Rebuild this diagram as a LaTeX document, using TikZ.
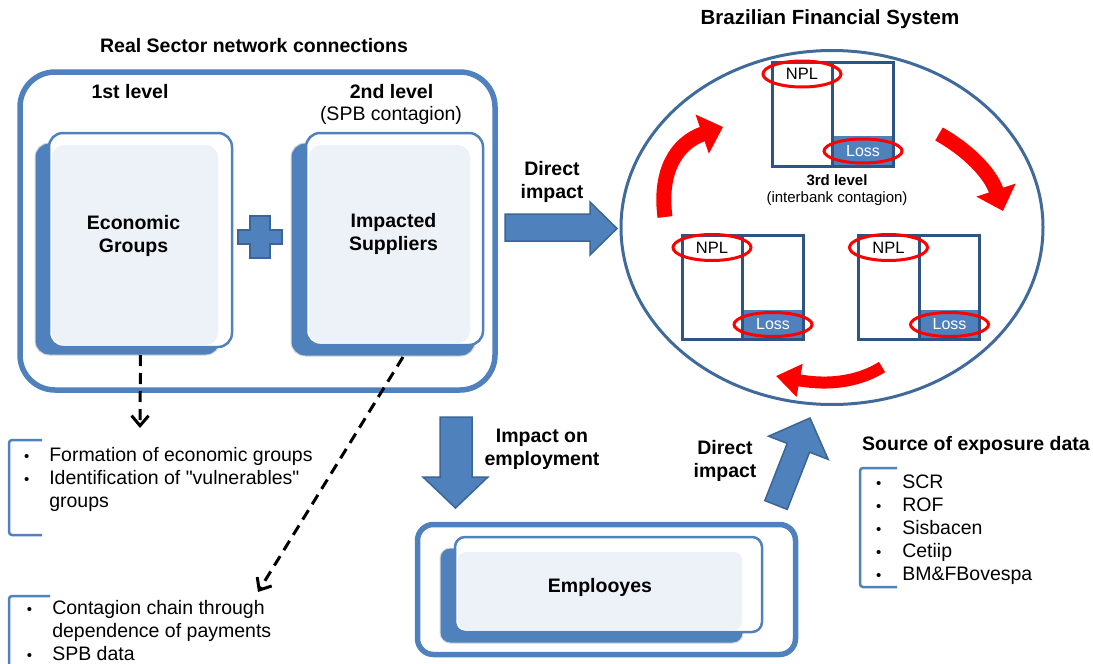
\documentclass[tikz,border=0pt]{standalone}
\usepackage{fontspec}
\setmainfont{Liberation Sans}[Ligatures=TeXOff]
\usetikzlibrary{arrows.meta,shapes.geometric}
\definecolor{bl}{HTML}{4F81BD}
\definecolor{bledge}{HTML}{3B6596}
\definecolor{navyb}{HTML}{2E5486}
\definecolor{ellc}{HTML}{416A9C}
\definecolor{lightb}{HTML}{EDF2F9}
\definecolor{redc}{HTML}{FF0000}
\newcommand{\mybul}{{\fontsize{15}{15}\selectfont\textbullet}}
\begin{document}
\begin{tikzpicture}[x=1pt, y=-1pt,
  every node/.style={inner sep=0pt, outer sep=0pt},
  txt/.style={font=\fontsize{19.5}{23}\selectfont, align=center},
  btxt/.style={font=\fontsize{19.5}{23}\selectfont\bfseries, align=center},
  stxt/.style={font=\fontsize{15}{18}\selectfont},
  sbtxt/.style={font=\fontsize{15}{18}\selectfont\bfseries},
  listtxt/.style={font=\fontsize{19.5}{23}\selectfont, anchor=west},
  outerbox/.style={rectangle, draw=bl, line width=5.5pt},
  shadowcard/.style={rectangle, fill=bl, draw=black!15, line width=1pt, rounded corners=14pt},
  frontcard/.style={rectangle, fill=white, draw=bl, line width=2.5pt, rounded corners=14pt},
  innercard/.style={rectangle, fill=lightb, rounded corners=12pt},
  blockarrow/.style={fill=bl, draw=bledge, line width=1.5pt, line join=miter},
  dasharr/.style={draw=black, line width=3pt, dash pattern=on 11pt off 7pt, -{Straight Barb[length=10pt,width=17pt]}},
  bracketline/.style={draw=bl, line width=2.5pt, rounded corners=3pt},
  banknode/.style={rectangle, fill=white, minimum width=121pt, minimum height=104pt},
  bankline/.style={draw=navyb, line width=3pt},
  ring/.style={draw=redc, line width=3pt},
  redarr/.style={draw=redc, line width=15pt, -{Triangle[length=22pt,width=40pt]}},
  redarrs/.style={draw=redc, line width=12pt, -{Triangle[length=24pt,width=32pt]}}
]
\useasboundingbox (0,0) rectangle (1093,664);

% ---------- Real sector box ----------
\node[btxt] (rstitle) at (254,46) {Real Sector network connections};
\node[outerbox, rounded corners=35pt, minimum width=475pt, minimum height=318pt] (realbox) at (257.5,231) {};
\node[btxt] (lvl1) at (130,92) {1st level};
\node[btxt] (lvl2) at (391.5,92) {2nd level};
\node[txt] (spb) at (391,115) {(SPB contagion)};

% left card
\node[shadowcard, minimum width=185pt, minimum height=212pt] (ecoShadow) at (127.5,249) {};
\node[frontcard, minimum width=183pt, minimum height=214pt] (ecoFront) at (140.5,240) {};
\node[innercard, minimum width=166pt, minimum height=200pt] (ecoInner) at (135,245) {};
\node[btxt] (eg) at (133.5,235.5) {Economic\\Groups};

% right card
\node[shadowcard, minimum width=184pt, minimum height=213pt] (supShadow) at (383,249.5) {};
\node[frontcard, minimum width=177pt, minimum height=212pt] (supFront) at (394.5,239) {};
\node[innercard, minimum width=161pt, minimum height=198pt] (supInner) at (389.5,244) {};
\node[btxt] (is) at (393.5,233.5) {Impacted\\Suppliers};

% plus sign
\draw[blockarrow] (250,216) -- (270,216) -- (270,230) -- (282,230) -- (282,244) -- (270,244)
  -- (270,258) -- (250,258) -- (250,244) -- (238,244) -- (238,230) -- (250,230) -- cycle;

% ---------- lists ----------
\draw[bracketline] (42,440) -- (9,440) -- (9,535) -- (42,535);
\node[listtxt] (list1) at (24,479.5) {\begin{tabular}{@{}l@{\hspace{20pt}}l@{}}
\mybul & Formation of economic groups\\
\mybul & Identification of "vulnerables"\\
 & groups
\end{tabular}};

\draw[bracketline] (50,596) -- (9,596) -- (9,680);
\node[listtxt] (list2) at (27,633) {\begin{tabular}{@{}l@{\hspace{20pt}}l@{}}
\mybul & Contagion chain through\\
 & dependence of payments\\
\mybul & SPB data
\end{tabular}};

\coordinate (d1end) at (140,428);
\coordinate (d2start) at (403,357);
\coordinate (d2end) at (258,592);
\draw[dasharr] (ecoFront.south |- ecoShadow.south) -- (d1end);
\draw[dasharr] (d2start) -- (d2end);

% ---------- direct impact arrow ----------
\draw[blockarrow] (505,214) -- (590,214) -- (590,202) -- (617,228.5) -- (590,255) -- (590,241) -- (505,241) -- cycle;
\node[btxt] (di1) at (552,182) {Direct\\impact};

% ---------- employment ----------
\draw[blockarrow] (440,417) -- (472,417) -- (472,477) -- (488,477) -- (455.5,508) -- (423,477) -- (440,477) -- cycle;
\node[btxt] (ie) at (542,449) {Impact on\\employment};

\node[outerbox, rounded corners=16pt, minimum width=378pt, minimum height=130pt] (empbox) at (606.5,589.5) {};
\node[shadowcard, rounded corners=10pt, minimum width=303pt, minimum height=95pt] (empShadow) at (591.5,595.5) {};
\node[frontcard, rounded corners=10pt, minimum width=307pt, minimum height=95pt] (empFront) at (608.5,584.5) {};
\node[innercard, rounded corners=8pt, minimum width=284pt, minimum height=78pt] (empInner) at (600,591) {};
\node[btxt] (emp) at (600,587) {Emplooyes};

\draw[blockarrow] (764.8,500.6) -- (787.2,443.4) -- (768.6,436.2) -- (810,418) -- (828.2,459.4)
  -- (809.6,452.2) -- (787.2,509.4) -- cycle;
\node[btxt] (di2) at (725,461) {Direct\\impact};

% ---------- Brazilian financial system ----------
\node[btxt, font=\fontsize{20.5}{24}\selectfont\bfseries] (bfstitle) at (830,19) {Brazilian Financial System};
\node[draw=ellc, line width=3pt, ellipse, minimum width=422pt, minimum height=354pt] (bfs) at (832,227.5) {};

% banks
\foreach \nm/\cx/\cy in {bankA/832.5/114, bankB/742.5/287.5, bankC/919/287.5}{
  \node[banknode] (\nm) at (\cx,\cy) {};
  \fill[bl] (\nm.south) rectangle ([yshift=30pt]\nm.south east);
  \draw[bankline] (\nm.north) -- (\nm.south);
  \draw[bankline] (\nm.north west) rectangle (\nm.south east);
  \node[txt, font=\fontsize{16}{18}\selectfont, text=white] (\nm loss) at ([xshift=-30pt, yshift=15pt]\nm.south east) {Loss};
  \node[txt, font=\fontsize{16.5}{18}\selectfont] (\nm npl) at ([xshift=30pt, yshift=-12pt]\nm.north west) {NPL};
  \draw[ring] (\nm npl.center) ellipse [x radius=39, y radius=13];
  \draw[ring] (\nm loss.center) ellipse [x radius=39, y radius=12];
}

\node[sbtxt] (l3) at (837,180) {3rd level};
\node[stxt] (ic) at (837,199) {(interbank contagion)};

% red arrows
\draw[redarr] (665,217) .. controls (659,172) and (676,143) .. (723,127);
\draw[redarr] (939,134) .. controls (966,149) and (990,172) .. (1003,211);
\draw[redarrs] (882,367) .. controls (860,381) and (830,386) .. (776,376);

% ---------- source of exposure data ----------
\node[btxt] (sed) at (976,445) {Source of exposure data};
\draw[bracketline] (897,468) -- (860,468) -- (860,587) -- (897,587);
\node[listtxt] (list3) at (876,529.5) {\begin{tabular}{@{}l@{\hspace{21pt}}l@{}}
\mybul & SCR\\
\mybul & ROF\\
\mybul & Sisbacen\\
\mybul & Cetiip\\
\mybul & BM\&FBovespa
\end{tabular}};
\end{tikzpicture}
\end{document}
